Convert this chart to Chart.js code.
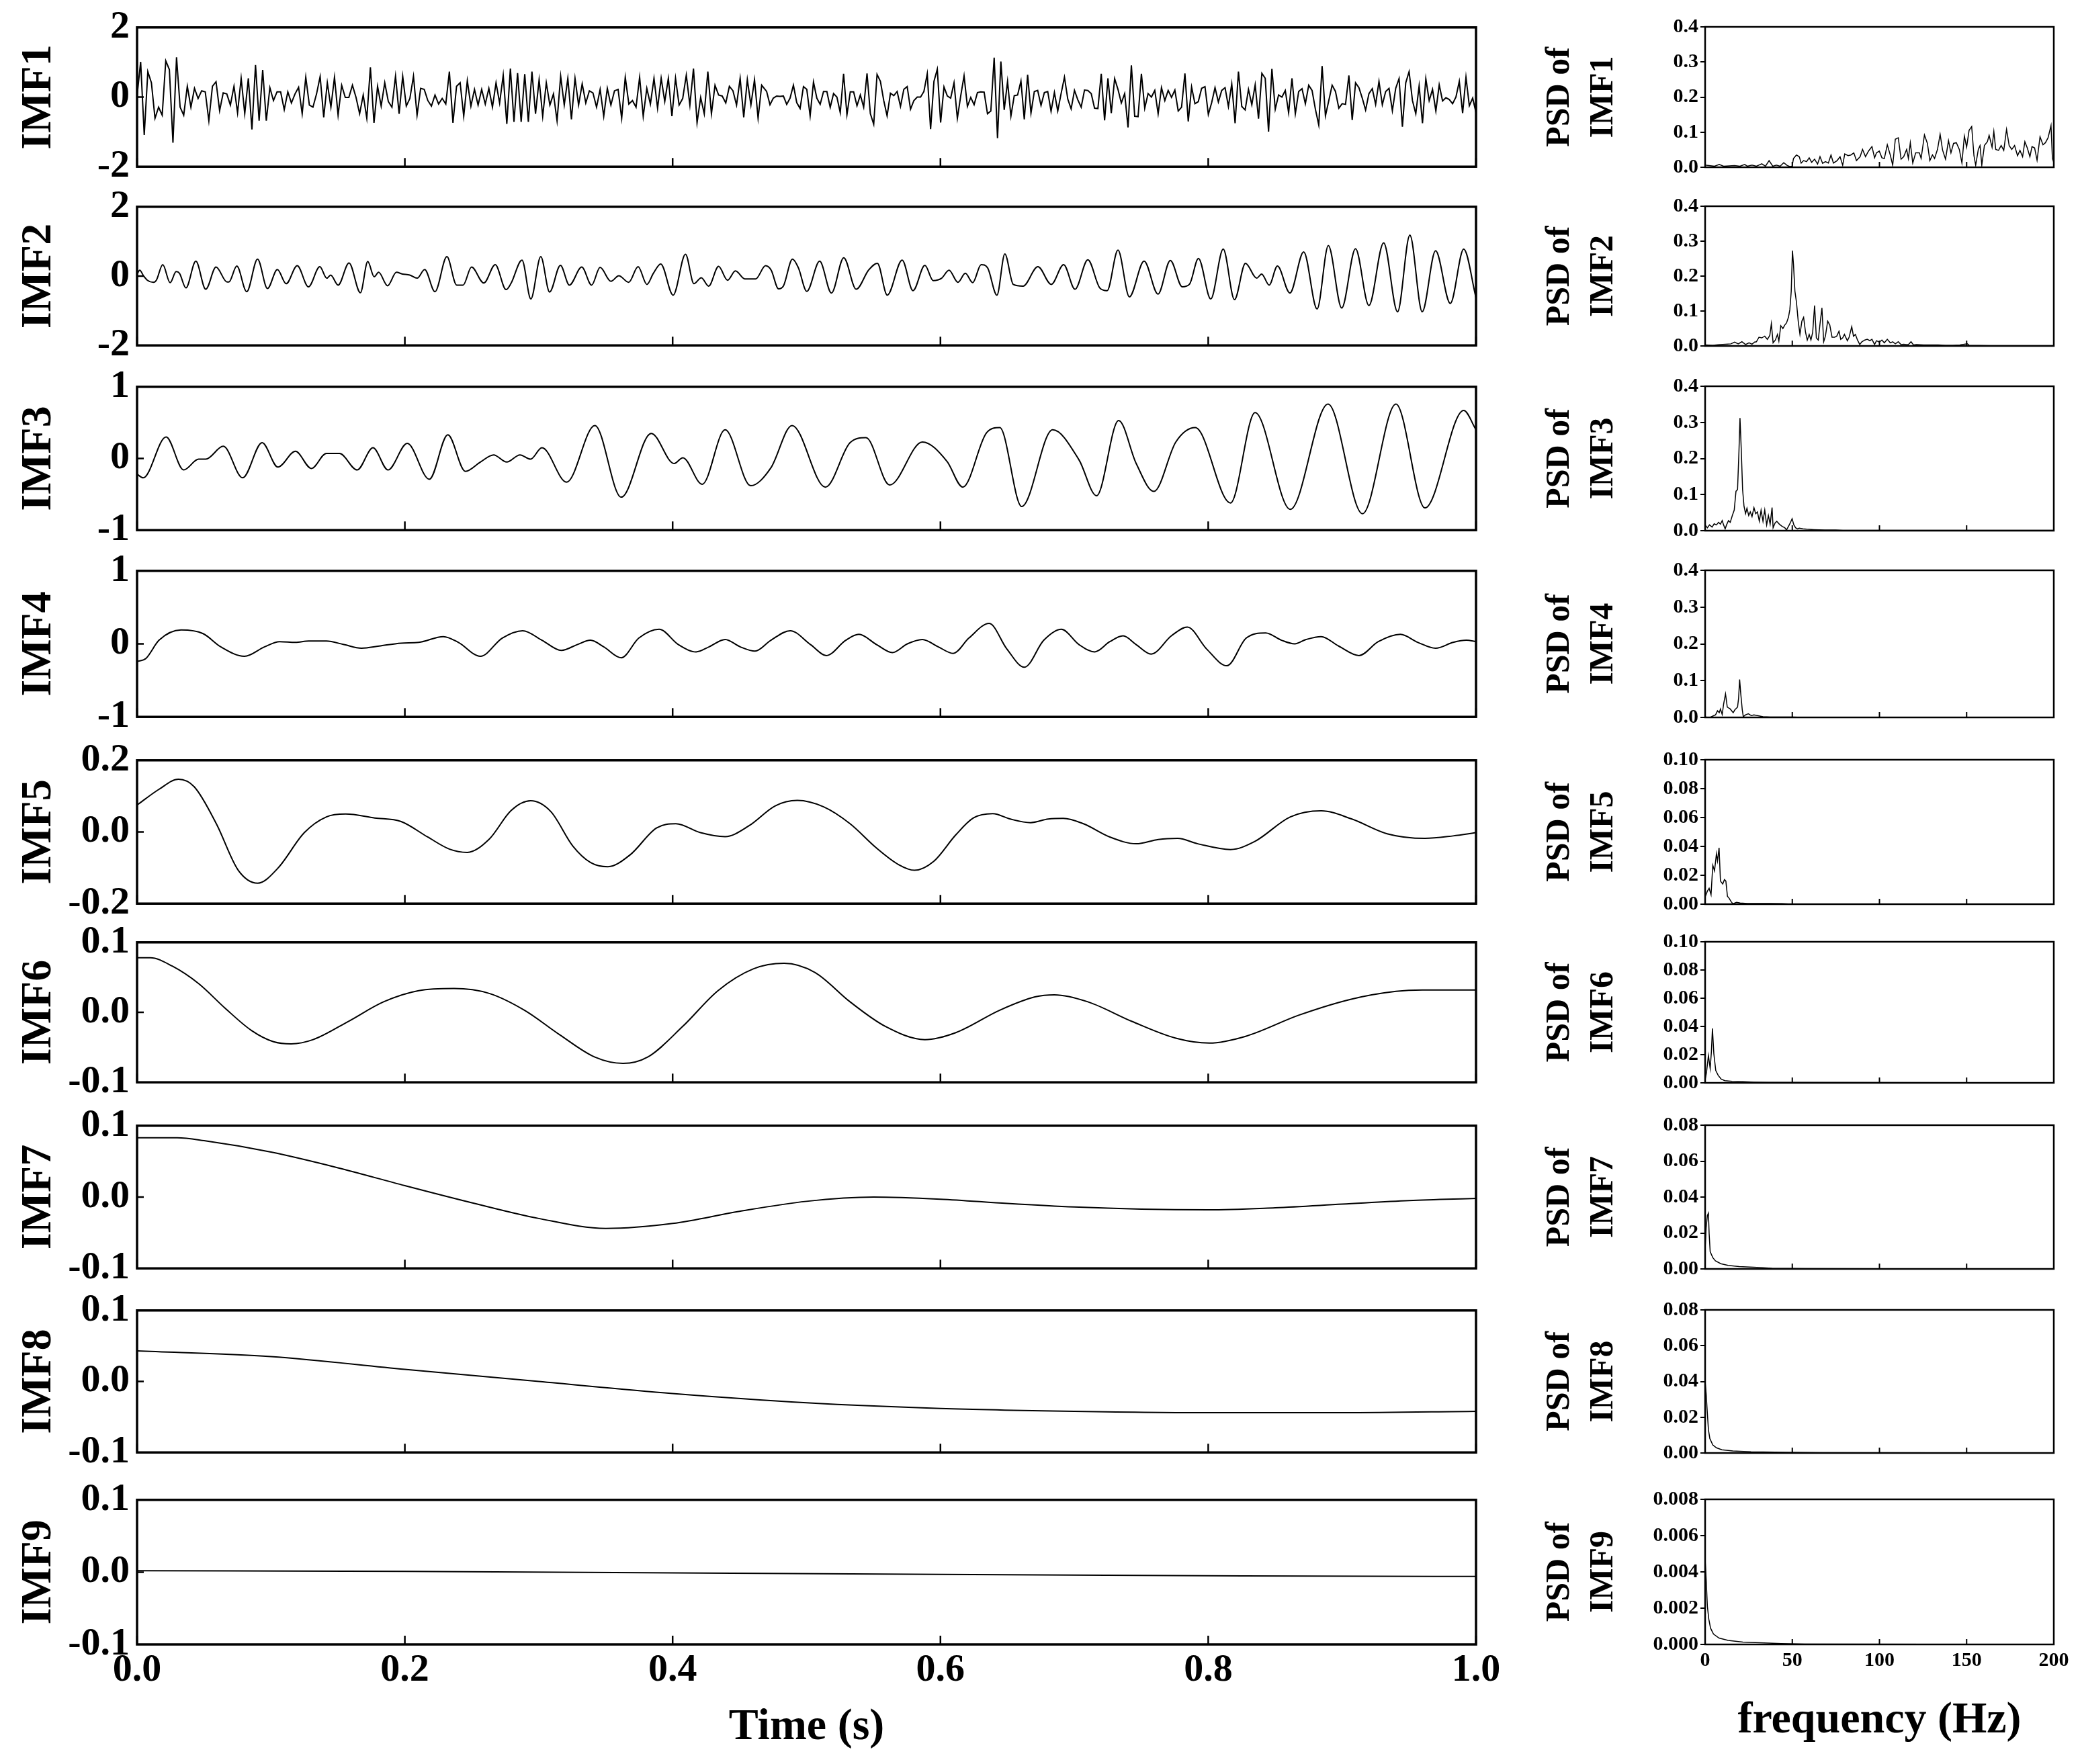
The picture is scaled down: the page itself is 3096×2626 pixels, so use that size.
<!DOCTYPE html>
<html><head><meta charset="utf-8">
<script src="https://cdn.jsdelivr.net/npm/chart.js@4.4.1/dist/chart.umd.min.js"></script>
<style>
html,body{margin:0;padding:0;background:#fff;overflow:hidden;}
#root{position:relative;width:3096px;height:2626px;background:#fff;overflow:hidden;}
canvas{position:absolute;}
</style></head><body><div id="root"></div>
<script>
// ---------------- DATA ----------------
const imfNames = ["IMF1","IMF2","IMF3","IMF4","IMF5","IMF6","IMF7","IMF8","IMF9"];
const timeTicks = [0,0.2,0.4,0.6,0.8,1.0];
const timeTickLabels = ["0.0","0.2","0.4","0.6","0.8","1.0"];
const freqTicks = [0,50,100,150,200];
const freqTickLabels = ["0","50","100","150","200"];

const imfYTicks = [[-2,0,2],[-2,0,2],[-1,0,1],[-1,0,1],[-0.2,0,0.2],[-0.1,0,0.1],[-0.1,0,0.1],[-0.1,0,0.1],[-0.1,0,0.1]];
const imfYLabels = [["-2","0","2"],["-2","0","2"],["-1","0","1"],["-1","0","1"],["-0.2","0.0","0.2"],["-0.1","0.0","0.1"],["-0.1","0.0","0.1"],["-0.1","0.0","0.1"],["-0.1","0.0","0.1"]];

const psdYTicks = [
 [0,0.1,0.2,0.3,0.4],[0,0.1,0.2,0.3,0.4],[0,0.1,0.2,0.3,0.4],[0,0.1,0.2,0.3,0.4],
 [0,0.02,0.04,0.06,0.08,0.10],[0,0.02,0.04,0.06,0.08,0.10],
 [0,0.02,0.04,0.06,0.08],[0,0.02,0.04,0.06,0.08],
 [0,0.002,0.004,0.006,0.008]];
const psdYLabels = [
 ["0.0","0.1","0.2","0.3","0.4"],["0.0","0.1","0.2","0.3","0.4"],["0.0","0.1","0.2","0.3","0.4"],["0.0","0.1","0.2","0.3","0.4"],
 ["0.00","0.02","0.04","0.06","0.08","0.10"],["0.00","0.02","0.04","0.06","0.08","0.10"],
 ["0.00","0.02","0.04","0.06","0.08"],["0.00","0.02","0.04","0.06","0.08"],
 ["0.000","0.002","0.004","0.006","0.008"]];

// IMF1: two evenly sampled stretches (first 0 .. 0.4665 s, second 0.4702 .. 1.0 s)
const imf1a = [0.03,1.01,-1.09,0.73,0.41,-0.61,-0.29,-0.52,1.04,0.79,-1.31,1.14,-0.29,-0.52,0.31,-0.29,0.25,-0.04,0.18,0.15,-0.68,0.31,0.44,-0.39,0.12,0.09,-0.23,0.31,-0.45,0.54,-0.48,0.54,-0.93,0.92,-0.68,0.78,-0.68,0.27,-0.10,0.15,0.15,-0.36,0.15,-0.17,0.09,0.28,-0.48,0.57,-0.23,-0.29,0.09,0.59,-0.58,0.41,-0.29,0.57,-0.52,0.34,-0.01,-0.01,0.34,-0.01,-0.48,0.06,-0.61,0.85,-0.74,0.31,-0.26,0.41,-0.13,-0.29,0.60,-0.48,0.60,-0.26,-0.04,0.60,-0.52,0.25,0.22,-0.10,-0.26,0.06,-0.20,-0.04,-0.20,0.73,-0.74,0.31,0.41,-0.55,0.47,-0.26,0.22,-0.23,0.22,-0.20,0.25,-0.29,0.41,-0.17,0.63,-0.77,0.82,-0.71,0.69,-0.71,0.66,-0.71,0.73,-0.48,0.50,-0.55,0.41,-0.23,0.09,-0.68,0.60,-0.23,0.54,-0.64,0.54,-0.23,0.38,-0.17,0.18,0.12,-0.29,0.22,-0.55,0.25,-0.23,0.18,0.22,-0.61,0.57,-0.20,-0.10,-0.29,0.57,-0.55,0.25,-0.20,0.54,-0.32,0.54,-0.13,0.54,-0.55,0.54,-0.23,-0.04,0.63,-0.23,0.82,-0.74,-0.01,-0.48,0.73,-0.48,0.34,0.06,0.03,-0.17,0.31,0.18,-0.23,0.54,-0.58,0.50,-0.23,0.50,-0.61,0.34];
const imf1b = [0.16,-0.22,-0.03,0.03,0.02,0.03,-0.21,-0.03,0.34,-0.16,-0.33,0.30,0.22,-0.54,0.43,-0.03,-0.21,0.16,0.16,-0.30,0.10,0.00,-0.45,0.67,-0.51,0.15,0.15,-0.25,0.06,-0.29,0.68,-0.48,-0.78,0.65,0.45,-0.10,-0.54,0.11,0.04,0.16,-0.27,0.22,0.30,-0.35,-0.10,0.00,0.00,0.16,0.67,-0.92,0.45,0.80,-0.73,0.29,0.03,-0.03,0.41,-0.61,0.03,0.61,-0.27,-0.01,-0.22,0.13,0.15,0.14,-0.48,-0.40,1.13,-1.18,1.02,-0.37,0.45,-0.55,0.04,0.06,0.46,-0.64,0.64,-0.46,0.16,0.19,-0.24,0.13,0.16,-0.41,0.13,-0.40,0.10,0.57,-0.06,-0.34,0.19,-0.08,-0.29,0.20,0.19,0.10,-0.32,-0.33,0.67,-0.67,0.54,-0.46,0.53,0.22,-0.17,0.10,-0.87,0.91,-0.55,-0.56,0.67,-0.32,0.10,0.00,0.19,-0.48,0.27,-0.10,0.19,-0.01,0.20,-0.40,-0.29,0.68,-0.70,0.29,-0.19,-0.13,0.25,0.30,-0.50,-0.16,0.27,-0.14,0.19,0.27,-0.27,0.38,-0.75,0.73,-0.27,-0.37,0.22,-0.22,0.35,-0.62,0.68,0.54,-0.99,0.81,-0.35,0.06,0.00,0.19,-0.45,0.54,-0.48,0.16,0.24,-0.19,0.34,0.19,-0.35,-0.80,0.89,-0.54,-0.10,0.34,0.16,-0.32,-0.19,-0.21,0.62,-0.66,0.41,0.27,-0.03,-0.37,0.10,0.24,-0.21,0.45,-0.22,0.16,0.25,-0.39,0.25,0.53,-0.85,0.41,0.73,-0.10,-0.48,0.32,-0.75,0.53,-0.10,0.22,-0.40,0.35,-0.11,-0.02,-0.07,-0.19,0.00,0.45,-0.46,0.57,-0.25,-0.03,-0.45];
const imf1Spans = [[0, 0.4665], [0.4702, 1.0]];

const imf2T = [0,0.002,0.0048,0.0077,0.0122,0.0144,0.0192,0.0247,0.0292,0.0317,0.0365,0.0439,0.0513,0.0590,0.0672,0.0686,0.0745,0.0819,0.0900,0.0974,0.1048,0.1114,0.1196,0.1280,0.1365,0.1417,0.1446,0.1502,0.1583,0.1668,0.1723,0.1771,0.1804,0.1871,0.1937,0.1982,0.2037,0.2092,0.2148,0.2225,0.2314,0.2387,0.2435,0.2498,0.2590,0.2675,0.2756,0.2793,0.2875,0.2941,0.3015,0.3081,0.3162,0.3229,0.3321,0.3395,0.3458,0.3539,0.3598,0.3672,0.3742,0.3808,0.3856,0.3911,0.4004,0.4096,0.4159,0.4214,0.4269,0.4343,0.4410,0.4469,0.4539,0.4620,0.4694,0.4736,0.4791,0.4828,0.4895,0.4939,0.5002,0.5098,0.5186,0.5278,0.5371,0.5463,0.5529,0.5603,0.5714,0.5795,0.5884,0.5946,0.6009,0.6064,0.6131,0.6186,0.6241,0.6304,0.6352,0.6422,0.6481,0.6544,0.6617,0.6728,0.6828,0.6920,0.7005,0.7101,0.7190,0.7245,0.7326,0.7411,0.7521,0.7625,0.7717,0.7806,0.7861,0.7927,0.8019,0.8112,0.8196,0.8278,0.8362,0.8399,0.8455,0.8517,0.8610,0.8713,0.8813,0.8897,0.8997,0.9100,0.9200,0.9310,0.9414,0.9506,0.9598,0.9698,0.9808,0.9908,1.0];
const imf2V = [0.05,0.17,0.01,-0.12,-0.18,-0.12,0.33,-0.19,0.13,0.08,-0.34,0.43,-0.38,0.26,-0.17,-0.17,0.29,-0.45,0.49,-0.36,0.19,-0.22,0.30,-0.31,0.27,-0.06,0.03,-0.26,0.38,-0.48,0.42,-0.02,0.11,-0.28,0.11,0.06,0.03,-0.06,0.19,-0.45,0.56,-0.26,-0.26,0.26,-0.20,0.33,-0.39,-0.21,0.46,-0.66,0.56,-0.46,0.31,-0.26,0.26,-0.26,0.25,-0.15,0.01,-0.18,0.27,-0.24,0.08,0.35,-0.55,0.63,-0.22,-0.05,-0.29,0.28,-0.12,0.15,-0.08,-0.08,0.30,0.17,-0.37,-0.28,0.49,0.24,-0.44,0.43,-0.49,0.53,-0.38,0.17,0.37,-0.55,0.46,-0.42,0.31,-0.13,-0.06,0.17,-0.18,0.08,-0.19,0.33,0.24,-0.55,0.64,-0.24,-0.29,0.27,-0.24,0.33,-0.38,0.47,-0.34,-0.42,0.75,-0.60,0.43,-0.52,0.45,-0.31,-0.23,0.51,-0.66,0.78,-0.68,0.37,-0.06,0.06,-0.26,0.29,-0.49,0.70,-0.95,0.88,-0.92,0.79,-0.85,0.96,-1.03,1.18,-1.03,0.73,-0.79,0.78,-0.63];

const imf3T = [0,0.0046,0.0217,0.0348,0.0460,0.0513,0.0644,0.0789,0.0934,0.1052,0.1183,0.1302,0.1414,0.1512,0.1644,0.1762,0.1874,0.2018,0.2183,0.2321,0.2452,0.2564,0.2663,0.2761,0.2860,0.2939,0.3024,0.3208,0.3419,0.3616,0.3840,0.4011,0.4076,0.4221,0.4392,0.4583,0.4734,0.4892,0.5141,0.5325,0.5444,0.5621,0.5865,0.6049,0.6167,0.6345,0.6443,0.6607,0.6838,0.7035,0.7166,0.7331,0.7462,0.7594,0.7758,0.7903,0.8166,0.8350,0.8613,0.8895,0.9152,0.9402,0.9619,0.9908,1.0];
const imf3V = [-0.22,-0.27,0.30,-0.16,-0.01,-0.01,0.17,-0.27,0.22,-0.12,0.10,-0.14,0.07,0.07,-0.16,0.15,-0.16,0.21,-0.29,0.33,-0.18,-0.05,0.05,-0.05,0.05,-0.01,0.15,-0.33,0.46,-0.54,0.35,-0.07,0.01,-0.36,0.40,-0.38,-0.13,0.46,-0.40,0.22,0.29,-0.37,0.23,-0.04,-0.40,0.36,0.43,-0.67,0.40,-0.02,-0.52,0.53,-0.07,-0.46,0.23,0.43,-0.62,0.64,-0.71,0.76,-0.77,0.76,-0.69,0.67,0.40];

const imf4T = [0,0.0066,0.0164,0.0329,0.0493,0.0625,0.0802,0.0953,0.1065,0.1183,0.1282,0.1414,0.1545,0.1677,0.1808,0.1972,0.2104,0.2288,0.2400,0.2564,0.2728,0.2880,0.3024,0.3169,0.3287,0.3386,0.3485,0.3616,0.3748,0.3899,0.4043,0.4175,0.4273,0.4392,0.4504,0.4615,0.4734,0.4878,0.5030,0.5148,0.5293,0.5391,0.5523,0.5641,0.5753,0.5865,0.5983,0.6095,0.6213,0.6364,0.6496,0.6627,0.6772,0.6903,0.7035,0.7153,0.7265,0.7364,0.7462,0.7574,0.7725,0.7844,0.7988,0.8139,0.8284,0.8429,0.8547,0.8646,0.8731,0.8843,0.8974,0.9126,0.9270,0.9435,0.9566,0.9698,0.9829,0.9928,1.0];
const imf4V = [-0.24,-0.20,0.05,0.19,0.14,-0.04,-0.17,-0.04,0.03,0.02,0.04,0.04,-0.01,-0.06,-0.03,0.01,0.02,0.10,0.02,-0.17,0.08,0.18,0.05,-0.09,-0.01,0.05,-0.04,-0.19,0.08,0.20,-0.01,-0.11,-0.04,0.06,-0.04,-0.10,0.05,0.18,-0.01,-0.16,0.05,0.13,-0.01,-0.12,0.00,0.06,-0.04,-0.13,0.08,0.28,-0.07,-0.32,0.05,0.20,-0.01,-0.11,0.03,0.11,-0.01,-0.14,0.11,0.23,-0.07,-0.30,0.08,0.15,0.05,0.00,0.06,0.10,-0.03,-0.16,0.03,0.13,0.02,-0.06,0.02,0.05,0.03];

const imf5T = [0,0.0164,0.0309,0.0427,0.0592,0.0756,0.0901,0.1052,0.1249,0.1414,0.1558,0.1775,0.1972,0.2170,0.2334,0.2466,0.2630,0.2794,0.2939,0.3090,0.3254,0.3386,0.3517,0.3682,0.3879,0.4024,0.4208,0.4392,0.4569,0.4767,0.4931,0.5128,0.5325,0.5523,0.5687,0.5806,0.5950,0.6115,0.6246,0.6391,0.6522,0.6673,0.6805,0.6917,0.7068,0.7265,0.7462,0.7627,0.7771,0.7922,0.8166,0.8350,0.8613,0.8843,0.9073,0.9336,0.9619,0.9829,1.0];
const imf5V = [0.075,0.119,0.147,0.126,0.023,-0.107,-0.143,-0.101,-0.002,0.042,0.050,0.039,0.029,-0.014,-0.048,-0.057,-0.020,0.060,0.087,0.057,-0.039,-0.085,-0.097,-0.064,0.011,0.023,-0.002,-0.013,0.017,0.073,0.088,0.070,0.023,-0.045,-0.091,-0.107,-0.082,-0.008,0.039,0.051,0.036,0.026,0.036,0.038,0.023,-0.014,-0.033,-0.021,-0.018,-0.033,-0.049,-0.026,0.042,0.059,0.036,-0.005,-0.018,-0.011,-0.002];

const imf6T = [0,0.0099,0.0263,0.0460,0.0657,0.0855,0.1019,0.1151,0.1315,0.1578,0.1841,0.2104,0.2367,0.2630,0.2893,0.3156,0.3419,0.3629,0.3813,0.4076,0.4339,0.4602,0.4832,0.5062,0.5325,0.5588,0.5884,0.6115,0.6443,0.6706,0.6851,0.7101,0.7430,0.7758,0.8008,0.8284,0.8678,0.9073,0.9402,0.9599,1.0];
const imf6V = [0.078,0.078,0.066,0.041,0.006,-0.026,-0.042,-0.045,-0.039,-0.013,0.015,0.031,0.034,0.027,0.003,-0.032,-0.064,-0.073,-0.064,-0.020,0.031,0.062,0.070,0.057,0.015,-0.020,-0.039,-0.029,0.003,0.022,0.025,0.015,-0.013,-0.037,-0.044,-0.034,-0.004,0.019,0.030,0.032,0.032];

const imf7T = [0,0.03,0.05,0.1,0.15,0.2,0.25,0.3,0.35,0.4,0.45,0.5,0.55,0.6,0.65,0.7,0.75,0.8,0.85,0.9,0.95,1.0];
const imf7V = [0.083,0.083,0.079,0.063,0.041,0.016,-0.008,-0.030,-0.044,-0.037,-0.020,-0.006,0.000,-0.003,-0.009,-0.014,-0.017,-0.018,-0.015,-0.010,-0.005,-0.002];

const imf8T = [0,0.1,0.2,0.3,0.4,0.5,0.6,0.7,0.8,0.9,1.0];
const imf8V = [0.043,0.035,0.017,0.000,-0.017,-0.030,-0.038,-0.042,-0.044,-0.044,-0.042];

const imf9T = [0,0.2,0.4,0.6,0.8,0.97,1.0];
const imf9V = [0.002,0.001,-0.001,-0.003,-0.005,-0.006,-0.006];

const psd1F = [0,2.3,5.4,8.1,10.6,13.8,16.9,20.0,22.7,24.2,26.9,29.4,32.5,34.6,36.7,38.8,40.9,43.0,45.1,47.1,48.6,49.9,50.7,52.4,54.0,55.1,56.5,58.2,59.7,61.1,62.8,64.5,65.9,67.4,69.0,70.7,72.2,73.6,75.7,77.4,78.9,80.1,82.0,83.6,85.3,86.8,88.9,90.3,92.0,93.7,95.7,97.2,98.3,99.9,101.4,102.8,104.5,106.2,107.6,109.1,110.8,112.4,113.9,115.6,116.6,117.7,119.1,120.8,122.9,123.9,125.8,127.5,128.9,130.4,131.6,133.3,134.8,136.2,137.9,139.6,141.0,142.5,144.1,145.8,147.3,148.7,150.0,151.4,152.9,154.2,155.2,156.7,157.7,158.7,160.2,161.9,162.9,164.6,165.6,166.7,168.3,169.8,171.3,172.9,174.4,175.9,177.5,179.2,180.6,182.1,183.4,184.8,186.3,187.5,189.0,190.4,192.1,193.8,195.2,196.7,198.4,199.2,200.0];
const psd1V = [0.006,0.005,0.003,0.008,0.003,0.004,0.005,0.003,0.008,0.003,0.006,0.003,0.010,0.003,0.019,0.003,0.006,0.003,0.013,0.005,0.002,0.003,0.025,0.035,0.030,0.012,0.019,0.016,0.027,0.014,0.023,0.009,0.030,0.011,0.016,0.012,0.035,0.012,0.019,0.030,0.006,0.038,0.033,0.035,0.041,0.019,0.030,0.051,0.030,0.046,0.059,0.027,0.041,0.046,0.027,0.025,0.064,0.035,0.006,0.080,0.084,0.023,0.030,0.051,0.025,0.070,0.012,0.041,0.041,0.025,0.092,0.068,0.019,0.035,0.025,0.051,0.094,0.049,0.023,0.076,0.041,0.068,0.070,0.051,0.012,0.089,0.057,0.105,0.116,0.033,0.006,0.051,0.062,0.006,0.062,0.073,0.091,0.057,0.102,0.051,0.048,0.062,0.048,0.108,0.062,0.051,0.062,0.033,0.048,0.030,0.073,0.055,0.030,0.059,0.055,0.020,0.087,0.064,0.070,0.084,0.119,0.025,0.014];

const psd2F = [0,4.4,8.6,11.7,14.8,16.9,19.0,21.1,23.2,25.2,26.9,28.4,29.4,30.9,32.5,34.2,35.7,37.1,38.0,39.0,40.3,41.5,42.3,43.4,44.6,45.7,46.7,47.8,48.6,49.4,50.1,50.7,51.5,52.4,53.4,54.4,55.5,56.5,57.6,58.6,59.7,60.7,61.7,62.8,63.8,64.9,65.9,67.0,68.0,69.0,70.3,71.5,72.8,74.3,75.5,76.8,77.8,78.9,79.9,81.6,82.6,84.1,85.1,86.2,87.4,88.7,89.9,91.6,93.0,94.5,95.7,97.2,98.3,99.9,101.4,102.8,104.5,106.2,107.6,109.1,110.8,112.4,113.9,115.4,116.6,118.1,119.5,121.2,125.4,129.5,133.7,137.9,142.1,146.2,150.4,151.4,162.9,183.8,200];
const psd2V = [0.003,0.002,0.004,0.005,0.006,0.011,0.006,0.012,0.004,0.009,0.005,0.011,0.012,0.025,0.023,0.028,0.019,0.030,0.064,0.009,0.017,0.033,0.014,0.058,0.050,0.060,0.066,0.082,0.104,0.157,0.273,0.233,0.157,0.125,0.071,0.033,0.071,0.082,0.039,0.017,0.033,0.017,0.039,0.116,0.023,0.017,0.063,0.109,0.012,0.028,0.071,0.060,0.025,0.025,0.028,0.042,0.019,0.023,0.033,0.015,0.025,0.055,0.028,0.033,0.017,0.004,0.012,0.017,0.019,0.015,0.019,0.004,0.015,0.011,0.017,0.009,0.019,0.009,0.012,0.006,0.012,0.004,0.005,0.004,0.004,0.012,0.003,0.004,0.003,0.003,0.003,0.002,0.002,0.003,0.006,0.002,0.001,0.001,0.001];

const psd3F = [0,1.3,2.5,4.0,5.2,6.5,7.7,8.8,9.8,10.6,11.5,12.3,13.4,14.4,15.6,16.7,17.7,18.6,19.4,20.0,20.7,21.5,22.3,23.2,24.0,25.0,25.9,26.9,28.0,29.0,30.0,31.1,32.1,33.2,34.2,35.3,36.3,37.3,38.4,39.0,40.1,41.1,42.6,44.2,45.7,46.7,47.8,48.8,49.9,50.9,51.9,53.0,54.0,56.1,58.2,62.4,68.6,74.9,79.1,99.9,200];
const psd3V = [0.016,0.008,0.016,0.010,0.019,0.016,0.023,0.018,0.028,0.016,0.005,0.016,0.028,0.023,0.042,0.057,0.109,0.114,0.218,0.312,0.229,0.114,0.068,0.047,0.062,0.042,0.052,0.039,0.064,0.047,0.052,0.026,0.057,0.026,0.057,0.016,0.042,0.018,0.064,0.008,0.021,0.026,0.018,0.012,0.008,0.002,0.012,0.021,0.033,0.016,0.008,0.005,0.007,0.005,0.004,0.003,0.002,0.002,0.001,0.001,0.001];

const psd4F = [0,2.9,5.0,6.0,7.1,8.1,8.8,9.8,10.6,11.7,12.7,14.4,16.1,17.1,18.6,19.2,19.8,20.4,21.3,21.9,23.2,24.8,26.5,28.0,30.0,33.2,37.3,49.9,56.1,200];
const psd4V = [0.001,0.000,0.005,0.007,0.018,0.013,0.023,0.008,0.036,0.064,0.028,0.023,0.013,0.021,0.028,0.052,0.103,0.067,0.021,0.002,0.007,0.010,0.005,0.007,0.005,0.002,0.001,0.001,0.000,0.000];

const psd5F = [0,1.3,2.3,3.4,4.4,5.4,6.5,7.1,8.0,8.8,10.1,11.1,11.9,12.8,13.8,14.9,15.9,18.0,20.1,24.3,28.5,36.9,44.2,49.5,200];
const psd5V = [0.005,0.009,0.011,0.0065,0.027,0.023,0.035,0.030,0.039,0.016,0.014,0.017,0.016,0.0055,0.004,0.0018,0.0003,0.0013,0.0008,0.0005,0.0005,0.0005,0.0003,0.0,0.0];

const psd6F = [0,0.8,1.9,2.9,3.6,4.2,5.0,6.1,7.5,9.2,11.3,15.5,21.8,28.0,36.4,200];
const psd6V = [0.0021,0.0074,0.0194,0.0101,0.0221,0.0386,0.0207,0.0088,0.0053,0.0027,0.0016,0.0011,0.0008,0.0005,0.0003,0.0];

const psd7F = [0,0.6,1.3,1.9,2.3,2.9,4.4,5.9,9.0,13.2,19.5,27.9,38.3,57.2,101.1,200];
const psd7V = [0.011,0.023,0.0297,0.031,0.0197,0.0096,0.0063,0.0045,0.0029,0.002,0.0013,0.0009,0.0004,0.0002,0.0001,0.0];

const psd8F = [0,0.6,1.3,1.9,2.7,4.4,6.5,9.6,15.9,26.3,47.2,66.0,200];
const psd8V = [0.040,0.033,0.022,0.013,0.0081,0.0045,0.0029,0.0018,0.0011,0.0007,0.0004,0.0002,0.0];

const psd9F = [0,0.6,1.3,2.1,3.1,4.8,8.0,13.2,21.6,36.2,43.6,57.2,200];
const psd9V = [0.0047,0.0036,0.0021,0.0014,0.0009,0.00057,0.00035,0.00022,0.00013,0.00007,0.00005,0.00002,0.0];

// ---------------- LAYOUT ----------------
const FONT = "'Liberation Serif','Times New Roman',serif";
const rowTop = [40,307,575,849,1131,1402,1675,1950,2232];
const rowBottom = [249,515,790,1068,1346,1612,1889,2163,2448];
const LEFTCOL = {x0:204, x1:2197, canvasX:0, padRight:45};
const RIGHTCOL = {x0:2538, x1:3057, canvasX:2250, padRight:39};
const PADTOP = 45, PADBOT = 45, PAGE_BOTTOM = 2626;
const root = document.getElementById('root');

const pair = (xs, ys) => xs.map((x, i) => ({x: x, y: ys[i]}));
const spanPts = (vals, span) => vals.map((v, i) => ({x: span[0] + (span[1] - span[0]) * i / (vals.length - 1), y: v}));
const imf1Pts = spanPts(imf1a, imf1Spans[0]).concat(spanPts(imf1b, imf1Spans[1]));
const imfSeries = [imf1Pts, pair(imf2T, imf2V), pair(imf3T, imf3V), pair(imf4T, imf4V), pair(imf5T, imf5V),
  pair(imf6T, imf6V), pair(imf7T, imf7V), pair(imf8T, imf8V), pair(imf9T, imf9V)];
const psdSeries = [pair(psd1F, psd1V), pair(psd2F, psd2V), pair(psd3F, psd3V), pair(psd4F, psd4V), pair(psd5F, psd5V),
  pair(psd6F, psd6V), pair(psd7F, psd7V), pair(psd8F, psd8V), pair(psd9F, psd9V)];

const framePlugin = {
  id: 'frame',
  afterDatasetsDraw(chart, args, o) {
    const {ctx, chartArea: a, scales} = chart;
    ctx.save();
    ctx.strokeStyle = '#000';
    ctx.lineWidth = o.tickWidth;
    ctx.beginPath();
    for (const v of o.xTicks) {
      const px = scales.x.getPixelForValue(v);
      ctx.moveTo(px, a.bottom); ctx.lineTo(px, a.bottom - o.xTickLen);
    }
    for (const v of o.yTicks) {
      const py = scales.y.getPixelForValue(v);
      ctx.moveTo(a.left, py); ctx.lineTo(a.left + o.yTickLen, py);
    }
    ctx.stroke();
    ctx.lineWidth = o.frameWidth;
    ctx.strokeRect(a.left, a.top, a.right - a.left, a.bottom - a.top);
    ctx.restore();
  }
};

function makePanel(p) {
  const col = p.col;
  const top = rowTop[p.row] - PADTOP;
  const bottom = p.showX ? PAGE_BOTTOM : rowBottom[p.row] + PADBOT;
  const B = bottom - rowBottom[p.row];
  const W = col.x1 + col.padRight - col.canvasX;
  const H = bottom - top;
  const cv = document.createElement('canvas');
  cv.width = W; cv.height = H;
  cv.style.left = col.canvasX + 'px'; cv.style.top = top + 'px';
  cv.style.width = W + 'px'; cv.style.height = H + 'px';
  root.appendChild(cv);
  new Chart(cv, {
    type: 'line',
    data: {datasets: [{data: p.points, borderColor: '#000', borderWidth: p.lw, pointRadius: 0, fill: false,
      tension: 0, cubicInterpolationMode: p.smooth ? 'monotone' : 'default'}]},
    options: {
      responsive: false, animation: false, devicePixelRatio: 1, events: [],
      layout: {padding: {left: 0, top: PADTOP, right: col.padRight, bottom: 0}},
      plugins: {
        legend: {display: false}, tooltip: {enabled: false},
        frame: {xTicks: p.xTickVals, yTicks: p.innerYTicks, xTickLen: p.xTickLen, yTickLen: p.yTickLen,
                tickWidth: p.tickWidth, frameWidth: p.frameWidth}
      },
      scales: {
        x: {
          type: 'linear', min: p.xMin, max: p.xMax,
          afterBuildTicks: s => { s.ticks = p.xTickVals.map(v => ({value: v})); },
          afterFit: s => { s.height = B; },
          grid: {display: false, drawTicks: false}, border: {display: false},
          ticks: {display: p.showX, autoSkip: false, maxRotation: 0, minRotation: 0, padding: p.xPad, color: '#000',
                  font: {family: FONT, size: p.tickSize, weight: 'bold'}, callback: (v, i) => p.xTickLabels[i]},
          title: {display: p.showX, text: p.xTitle, color: '#000',
                  font: {family: FONT, size: 66, weight: 'bold', lineHeight: 1.2}, padding: {top: 0, bottom: p.xTitlePad}}
        },
        y: {
          type: 'linear', min: p.yMin, max: p.yMax,
          afterBuildTicks: s => { s.ticks = p.yTickVals.map(v => ({value: v})); },
          afterFit: s => { s.width = col.x0 - col.canvasX; },
          grid: {display: p.outTicks, drawOnChartArea: false, drawTicks: p.outTicks, tickLength: 7, color: '#000', lineWidth: 2},
          border: {display: false},
          ticks: {padding: p.yPad, color: '#000', autoSkip: false,
                  font: {family: FONT, size: p.tickSize, weight: 'bold'}, callback: (v, i) => p.yTickLabels[i]},
          title: {display: true, text: p.title, color: '#000',
                  font: {family: FONT, size: p.titleSize, weight: 'bold', lineHeight: p.titleLH},
                  padding: {top: p.titlePad, bottom: 0}}
        }
      }
    },
    plugins: [framePlugin]
  });
}

for (let r = 0; r < 9; r++) {
  const yt = imfYTicks[r];
  makePanel({
    col: LEFTCOL, row: r, showX: r === 8, points: imfSeries[r], smooth: r > 0, lw: 2,
    xMin: 0, xMax: 1, xTickVals: timeTicks, xTickLabels: timeTickLabels, xTitle: 'Time (s)', xPad: 4, xTitlePad: 14,
    yMin: yt[0], yMax: yt[yt.length - 1], yTickVals: yt, yTickLabels: imfYLabels[r], yPad: 11, outTicks: false,
    innerYTicks: [0], xTickLen: 13, yTickLen: 10, tickWidth: 2.5, frameWidth: 3.5,
    tickSize: 58, title: imfNames[r], titleSize: 64, titleLH: 1.0, titlePad: 26
  });
  const pt = psdYTicks[r];
  makePanel({
    col: RIGHTCOL, row: r, showX: r === 8, points: psdSeries[r], smooth: false, lw: 1.5,
    xMin: 0, xMax: 200, xTickVals: freqTicks, xTickLabels: freqTickLabels, xTitle: 'frequency (Hz)', xPad: 6, xTitlePad: 24,
    yMin: pt[0], yMax: pt[pt.length - 1], yTickVals: pt, yTickLabels: psdYLabels[r], yPad: 3, outTicks: true,
    innerYTicks: [], xTickLen: 8, yTickLen: 0, tickWidth: 2, frameWidth: 2.5,
    tickSize: 30, title: ['PSD of', imfNames[r]], titleSize: 50, titleLH: 1.3, titlePad: 40
  });
}
</script>
</body></html>
